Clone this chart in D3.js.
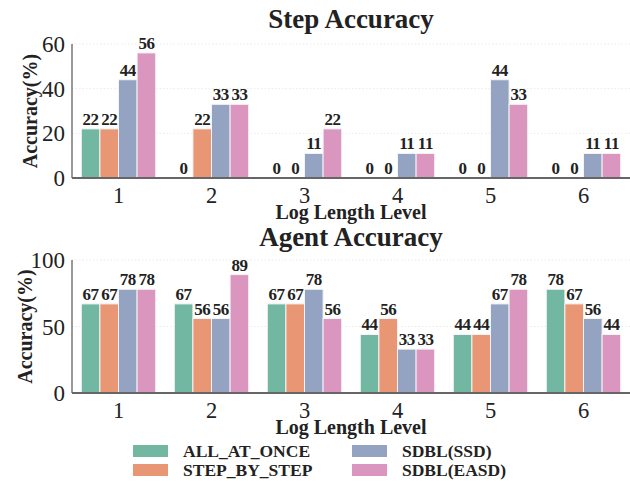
<!DOCTYPE html>
<html><head><meta charset="utf-8">
<script src="https://cdn.jsdelivr.net/npm/d3@7"></script>
<style>body{margin:0;background:#fff}svg{display:block}text{font-family:"Liberation Serif","Times New Roman",serif}</style>
</head><body><svg id="c" width="630" height="481"></svg>
<script>
const levels = ["1","2","3","4","5","6"];
const methods = ["ALL_AT_ONCE","STEP_BY_STEP","SDBL(SSD)","SDBL(EASD)"];
const colors = ["#72b7a1","#e99675","#95a3c3","#db96c0"];
const stepAcc = [
  [22,0,0,0,0,0],
  [22,22,0,0,0,0],
  [44,33,11,11,44,11],
  [56,33,22,11,33,11]
];
const agentAcc = [
  [67,67,67,44,44,78],
  [67,56,67,56,44,67],
  [78,56,78,33,67,56],
  [78,89,56,33,78,44]
];
const stepTicks = [0,20,40,60];
const agentTicks = [0,50,100];

const svg = d3.select("#c");
const left = 72, right = 630;

function panel(cfg){
  const x = d3.scaleBand().domain(levels).range([left,right]).paddingInner(0.2).paddingOuter(0.1);
  const xs = d3.scaleBand().domain(methods).range([0,x.bandwidth()]);
  const y = d3.scaleLinear().domain([0,cfg.ymax]).range([cfg.y0,cfg.y1]);
  const g = svg.append("g");
  g.selectAll(".grid").data(cfg.ticks.filter(t=>t>0)).join("line")
    .attr("x1",left).attr("x2",right).attr("y1",d=>y(d)).attr("y2",d=>y(d))
    .attr("stroke","#e4e4e4").attr("stroke-width",0.8).attr("stroke-dasharray","1.5,2");
  methods.forEach((m,i)=>{
    const data = cfg.values[i];
    g.selectAll(".b"+i).data(levels).join("rect")
      .attr("x",d=>x(d)+xs(m)).attr("width",xs.bandwidth())
      .attr("y",(d,j)=>y(data[j])).attr("height",(d,j)=>cfg.y0-y(data[j]))
      .attr("fill",colors[i]).attr("stroke","#f4f4f4").attr("stroke-width",1);
    g.selectAll(".l"+i).data(levels).join("text")
      .attr("x",d=>x(d)+xs(m)+xs.bandwidth()/2).attr("y",(d,j)=>y(data[j])-4)
      .attr("text-anchor","middle").attr("font-size",17).attr("font-weight","bold").attr("fill","#222")
      .attr("letter-spacing",-0.5)
      .text((d,j)=>data[j]);
  });
  g.append("line").attr("x1",left).attr("x2",left).attr("y1",cfg.y0).attr("y2",cfg.y1)
    .attr("stroke","#555").attr("stroke-width",1.2);
  g.append("line").attr("x1",left).attr("x2",right).attr("y1",cfg.y0).attr("y2",cfg.y0)
    .attr("stroke","#666").attr("stroke-width",1.8);
  g.selectAll(".yt").data(cfg.ticks).join("text")
    .attr("x",left-7).attr("y",d=>y(d)+8).attr("text-anchor","end")
    .attr("font-size",23).attr("fill","#222").text(d=>d);
  g.selectAll(".xt").data(levels).join("text")
    .attr("x",d=>x(d)+x.bandwidth()/2).attr("y",cfg.y0+24.5).attr("text-anchor","middle")
    .attr("font-size",22.5).attr("fill","#222").text(d=>d);
  g.append("text").attr("x",(left+right)/2).attr("y",cfg.y0+41).attr("text-anchor","middle")
    .attr("font-size",20).attr("font-weight","bold").attr("fill","#222").text("Log Length Level");
  g.append("text").attr("transform",`translate(${cfg.ylx},${(cfg.y0+cfg.y1)/2}) rotate(-90)`)
    .attr("text-anchor","middle").attr("font-size",20).attr("font-weight","bold").attr("fill","#222").text("Accuracy(%)");
  g.append("text").attr("x",(left+right)/2).attr("y",cfg.ty).attr("text-anchor","middle")
    .attr("font-size",27).attr("font-weight","bold").attr("fill","#222").text(cfg.title);
}

panel({values:stepAcc, ymax:60, ticks:stepTicks, y0:178, y1:44, ylx:37, ty:28, title:"Step Accuracy"});
panel({values:agentAcc, ymax:100, ticks:agentTicks, y0:393, y1:260, ylx:32, ty:246, title:"Agent Accuracy"});

const leg = svg.append("g");
const lx = [133, 352], ly = [451, 470];
methods.forEach((m,i)=>{
  const col = Math.floor(i/2), row = i%2;
  leg.append("rect").attr("x",lx[col]).attr("y",ly[row]-6).attr("width",35).attr("height",12).attr("fill",colors[i]);
  leg.append("text").attr("x",lx[col]+50).attr("y",ly[row]+6).attr("font-size",17.5).attr("font-weight","bold").attr("fill","#222").text(m);
});
</script></body></html>
